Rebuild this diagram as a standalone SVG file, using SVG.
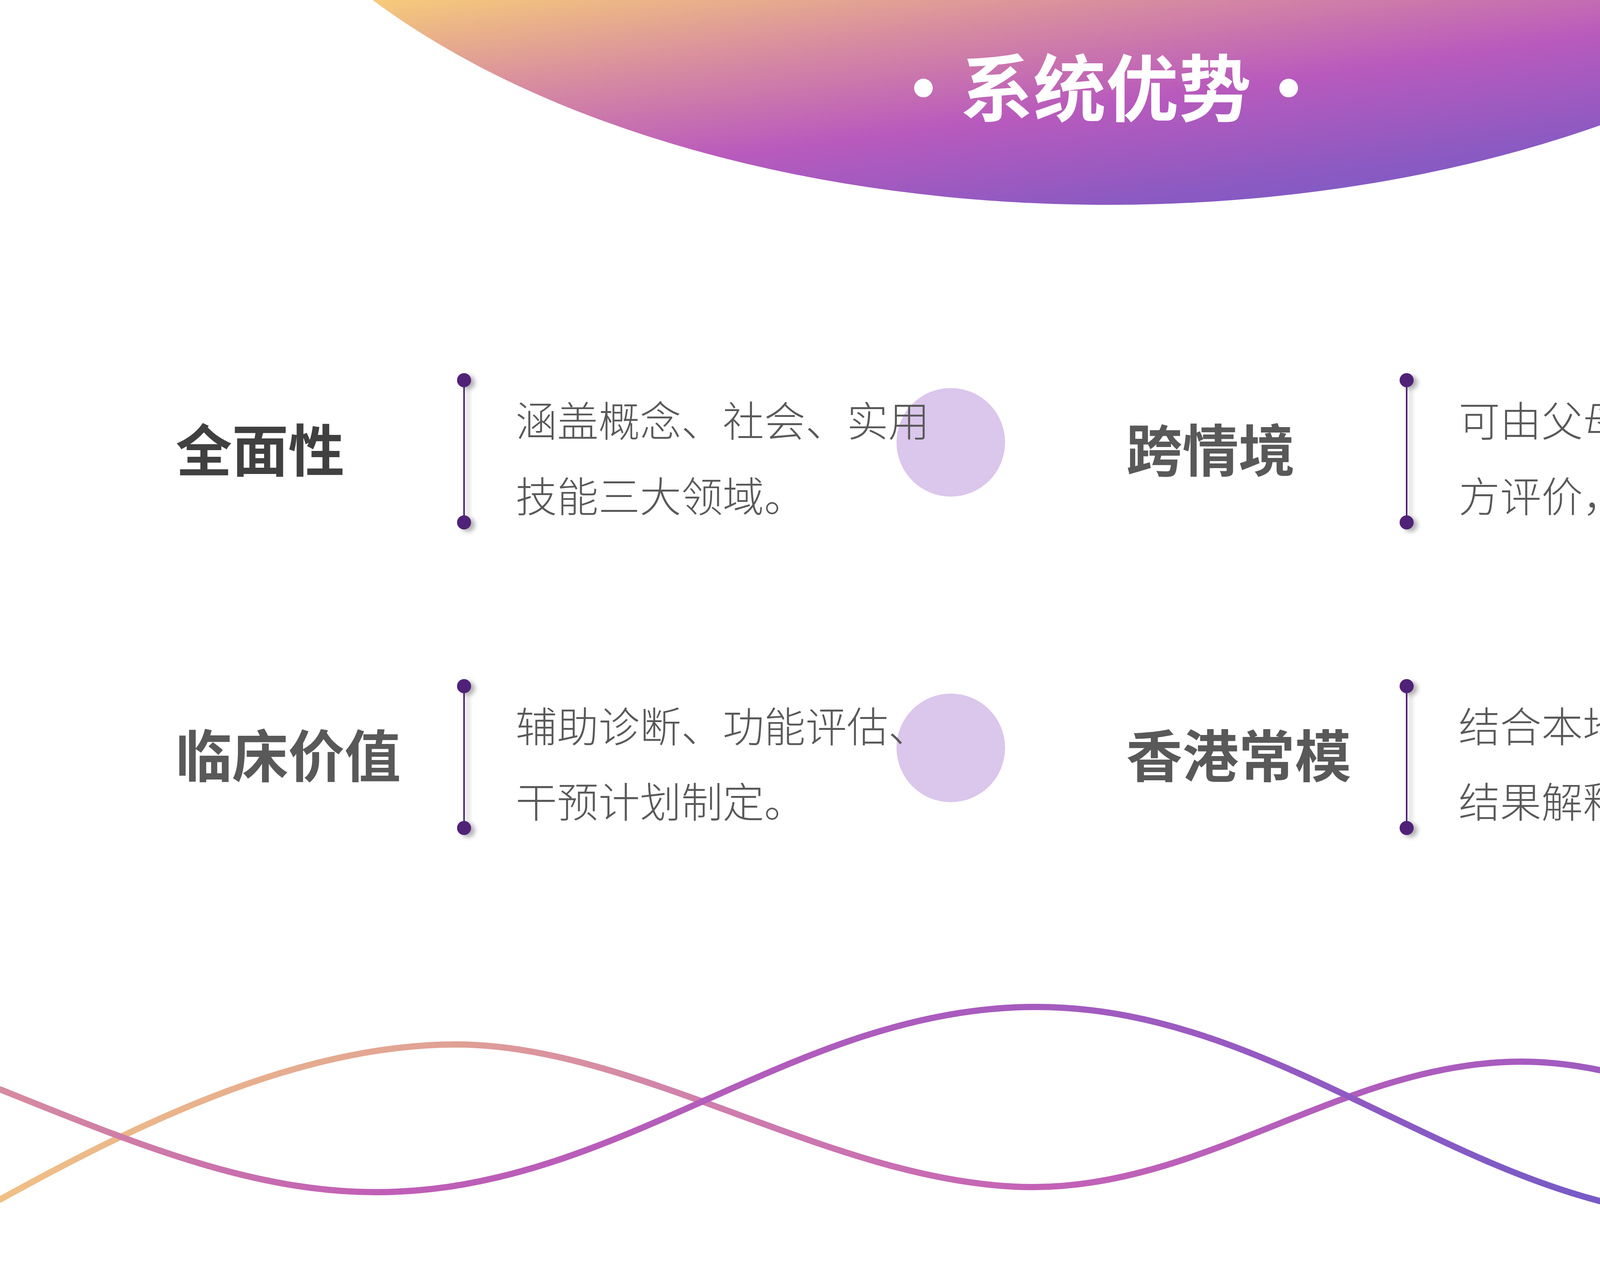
<svg xmlns="http://www.w3.org/2000/svg" width="5760" height="3240" viewBox="0 0 5760 3240">
<defs>
<linearGradient id="gArc" x1="0" y1="0" x2="1" y2="1">
<stop offset="0" stop-color="#F6CB7A"/>
<stop offset="0.25" stop-color="#D98F9E"/>
<stop offset="0.5" stop-color="#B95ABD"/>
<stop offset="0.75" stop-color="#8A5AC2"/>
<stop offset="1" stop-color="#6A5CC8"/>
</linearGradient>
<linearGradient id="gW1" gradientUnits="userSpaceOnUse" x1="0" y1="0" x2="5760" y2="0">
<stop offset="0" stop-color="#F0C085"/>
<stop offset="0.2" stop-color="#E0A195"/>
<stop offset="0.31" stop-color="#CF80AC"/>
<stop offset="0.46" stop-color="#C462B6"/>
<stop offset="0.68" stop-color="#A65BBF"/>
<stop offset="0.9" stop-color="#6C5AC6"/>
<stop offset="1" stop-color="#5B5BC8"/>
</linearGradient>
<linearGradient id="gW2" gradientUnits="userSpaceOnUse" x1="0" y1="0" x2="5760" y2="0">
<stop offset="0" stop-color="#D68CA0"/>
<stop offset="0.17" stop-color="#C05EB6"/>
<stop offset="0.46" stop-color="#A65BBF"/>
<stop offset="0.6" stop-color="#8F5AC2"/>
<stop offset="0.77" stop-color="#6A5AC8"/>
<stop offset="1" stop-color="#5859CC"/>
</linearGradient>
<filter id="sh" x="-150%" y="-20%" width="400%" height="140%">
<feGaussianBlur in="SourceAlpha" stdDeviation="6"/>
<feOffset dx="10" dy="6" result="b"/>
<feFlood flood-color="#000" flood-opacity="0.3"/>
<feComposite in2="b" operator="in"/>
<feMerge><feMergeNode/><feMergeNode in="SourceGraphic"/></feMerge>
</filter>
<style>
text{text-spacing-trim:space-all}
.t{font-family:"Noto Sans CJK SC","Noto Sans",sans-serif;font-weight:700;font-size:144px;fill:#595959}
.b{font-family:"Noto Sans CJK SC","Noto Sans",sans-serif;font-weight:300;font-size:106px;fill:#595959}
.ln{stroke:#4F2177;stroke-width:4}
.dot{fill:#4F2177}
.c{fill:#DBC6EC}
.w{fill:none;stroke-width:16;stroke-linecap:round}
.h{font-family:"Noto Sans CJK SC","Noto Sans",sans-serif;font-weight:700;font-size:186px;fill:#FFFFFF;text-anchor:middle}
</style>
</defs>
<rect width="5760" height="3240" fill="#FFFFFF"/>
<g id="header">
<path d="M 954 0 A 2340 1292 0 0 0 4718 0 Z" fill="url(#gArc)"/>
<text class="h" y="296"><tspan x="2364">·</tspan><tspan x="2831">系统优势</tspan><tspan x="3299">·</tspan></text>
</g>
<g id="waves">
<path class="w" stroke="url(#gW1)" d="M 0 3070 C 380 2860, 780 2673, 1168 2673 C 1640 2673, 2150 3038, 2645 3038 C 3090 3038, 3450 2717, 3894 2717 C 4360 2717, 4730 3080, 5198 3080 C 5420 3080, 5600 3010, 5760 2909"/>
<path class="w" stroke="url(#gW2)" d="M 0 2788 C 330 2920, 640 3051, 962 3051 C 1590 3051, 2030 2577, 2652 2577 C 3300 2577, 3780 3118, 4419 3118 C 4800 3118, 5300 2900, 5760 2435"/>
</g>
<g id="card-1">
<circle class="c" cx="2434" cy="1132" r="139"/>
<text class="t" x="450" y="1207" style="fill:#404040">全面性</text>
<g filter="url(#sh)"><line class="ln" x1="1188" y1="973" x2="1188" y2="1337"/><circle class="dot" cx="1188" cy="973" r="18"/><circle class="dot" cx="1188" cy="1337" r="18"/></g>
<text class="b"><tspan x="1320" y="1117">涵盖概念、社会、实用</tspan><tspan x="1320" y="1310">技能三大领域。</tspan></text>
</g>
<g id="card-2">
<circle class="c" cx="5125" cy="1132" r="139"/>
<text class="t" x="2883" y="1207">跨情境</text>
<g filter="url(#sh)"><line class="ln" x1="3601" y1="973" x2="3601" y2="1337"/><circle class="dot" cx="3601" cy="973" r="18"/><circle class="dot" cx="3601" cy="1337" r="18"/></g>
<text class="b"><tspan x="3734" y="1117">可由父母（照顾者）、教师多</tspan><tspan x="3734" y="1310">方评价，反映真实生活表现。</tspan></text>
</g>
<g id="card-3">
<circle class="c" cx="2434" cy="1914" r="139"/>
<text class="t" x="450" y="1989">临床价值</text>
<g filter="url(#sh)"><line class="ln" x1="1188" y1="1756" x2="1188" y2="2119"/><circle class="dot" cx="1188" cy="1756" r="18"/><circle class="dot" cx="1188" cy="2119" r="18"/></g>
<text class="b"><tspan x="1320" y="1899">辅助诊断、功能评估、</tspan><tspan x="1320" y="2092">干预计划制定。</tspan></text>
</g>
<g id="card-4">
<circle class="c" cx="5125" cy="1914" r="139"/>
<text class="t" x="2883" y="1989">香港常模</text>
<g filter="url(#sh)"><line class="ln" x1="3601" y1="1756" x2="3601" y2="2119"/><circle class="dot" cx="3601" cy="1756" r="18"/><circle class="dot" cx="3601" cy="2119" r="18"/></g>
<text class="b"><tspan x="3734" y="1899">结合本地儿童发展特征，提升</tspan><tspan x="3734" y="2092">结果解释的本土化与准确性。</tspan></text>
</g>
</svg>
